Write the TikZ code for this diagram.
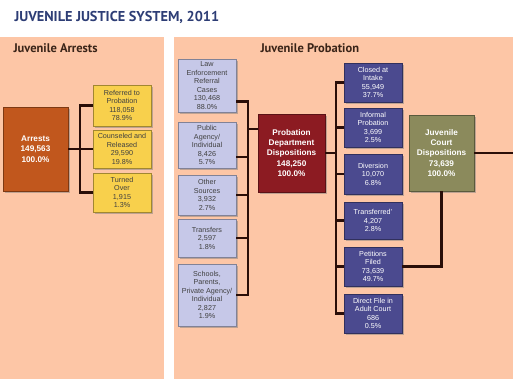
\documentclass[tikz,border=0pt]{standalone}
\usepackage{fontspec}
\setmainfont{Liberation Sans}
\newfontfamily\headfont{PT Sans}
\usepackage{tikz}
\usetikzlibrary{shadows}

\definecolor{panelc}{HTML}{FDC6A6}
\definecolor{arrestc}{HTML}{C1571D}
\definecolor{yellowc}{HTML}{F8D04C}
\definecolor{lavc}{HTML}{C6C8E8}
\definecolor{probc}{HTML}{8C1B22}
\definecolor{dispc}{HTML}{4B4A8F}
\definecolor{courtc}{HTML}{8B8A5C}
\definecolor{linkc}{HTML}{2A0E08}
\definecolor{titlec}{HTML}{2D3D75}
\definecolor{headc}{HTML}{3A2418}

\begin{document}
\begin{tikzpicture}[
        x=1pt, y=-1pt,
        box/.style = {draw=#1!65!black, fill=#1, line width=.4pt, align=center, inner sep=1pt,
            minimum width=58pt, text=black!75, font=\fontsize{7.2}{8.5}\selectfont,
            drop shadow={shadow xshift=1.6pt, shadow yshift=-1.6pt, opacity=.5}},
        bigbox/.style = {box=#1, minimum width=66pt, text=white, font=\fontsize{8.2}{10.3}\selectfont\bfseries},
        disp/.style = {box=dispc, text=white},
        link/.style = {draw=linkc, line width=2.8pt},
        head/.style = {anchor=base west, text=headc, font=\headfont\fontsize{12.5}{14}\selectfont\bfseries},
    ]
    \useasboundingbox (0,0) rectangle (513,379);
    % panels
    \fill[panelc] (0,37) rectangle (164,379);
    \fill[panelc] (174,37) rectangle (513,379);
    \node[anchor=base west, text=titlec, font=\headfont\fontsize{14.3}{16}\selectfont\bfseries] (title) at (11,22) {JUVENILE JUSTICE SYSTEM, 2011};
    \node[head] (hArr) at (10,53) {Juvenile Arrests};
    \node[head] (hProb) at (257,53) {Juvenile Probation};

    % arrests
    \node[bigbox=arrestc, minimum width=65pt, minimum height=84pt] (arrests) at (35.5,149) {Arrests\\149,563\\100.0\%};
    \node[box=yellowc, minimum height=41pt] (ref) at (122,105.5) {Referred to\\Probation\\118,058\\78.9\%};
    \node[box=yellowc, minimum height=38pt] (couns) at (122,149) {Counseled and\\Released\\29,590\\19.8\%};
    \node[box=yellowc, minimum height=39pt] (turned) at (122,192.5) {Turned\\Over\\1,915\\1.3\%};

    % referral sources
    \node[box=lavc, minimum height=53pt] (law) at (207,85.5) {Law\\Enforcement\\Referral\\Cases\\130,468\\88.0\%};
    \node[box=lavc, minimum height=46pt] (pub) at (207,145) {Public\\Agency/\\Individual\\8,426\\5.7\%};
    \node[box=lavc, minimum height=40pt] (other) at (207,195) {Other\\Sources\\3,932\\2.7\%};
    \node[box=lavc, minimum height=38pt] (trans) at (207,238) {Transfers\\2,597\\1.8\%};
    \node[box=lavc, minimum height=62pt] (school) at (207,295) {Schools,\\Parents,\\Private Agency/\\Individual\\2,827\\1.9\%};

    \node[bigbox=probc, minimum width=67pt, minimum height=78pt] (prob) at (291.5,153) {Probation\\Department\\Dispositions\\148,250\\100.0\%};

    % dispositions
    \node[disp, minimum height=39pt] (closed) at (373,82.5) {Closed at\\Intake\\55,949\\37.7\%};
    \node[disp, minimum height=39pt] (informal) at (373,127.5) {Informal\\Probation\\3,699\\2.5\%};
    \node[disp, minimum height=40pt] (divers) at (373,174) {Diversion\\10,070\\6.8\%};
    \node[disp, minimum height=37pt] (transd) at (373,220.5) {Transferred'\\4,207\\2.8\%};
    \node[disp, minimum height=39pt] (petit) at (373,266.5) {Petitions\\Filed\\73,639\\49.7\%};
    \node[disp, minimum height=39pt] (direct) at (373,313.5) {Direct File in\\Adult Court\\686\\0.5\%};

    \node[bigbox=courtc, minimum width=65pt, minimum height=76pt] (court) at (441.5,153) {Juvenile\\Court\\Dispositions\\73,639\\100.0\%};

    % connectors
    \coordinate (busA) at (80,149);
    \draw[link] (arrests.east) -- (couns.west);
    \draw[link] (ref.west) -| (busA) |- (turned.west);

    \coordinate (busB) at (248,129);
    \coordinate (lawOut) at ([yshift=-16pt]law.east);
    \coordinate (pubOut) at ([yshift=-12pt]pub.east);
    \draw[link] (lawOut) -| (busB) |- (school.east);
    \draw[link] (pubOut) -- (pubOut -| busB);
    \draw[link] (other.east) -- (other.east -| busB);
    \draw[link] (trans.east) -- (trans.east -| busB);
    \draw[link] (busB) -- (busB -| prob.west);

    \coordinate (busC) at (336,153);
    \draw[link] (prob.east) -- (busC);
    \draw[link] (closed.west) -| (busC) |- (direct.west);
    \foreach \n in {informal, divers, transd, petit}
        \draw[link] (\n.west) -- (\n.west -| busC);

    \coordinate (courtOut) at (513,153);
    \draw[link] (court.east) -- (courtOut);
    \draw[link] (petit.east) -| (court.south);
\end{tikzpicture}
\end{document}
